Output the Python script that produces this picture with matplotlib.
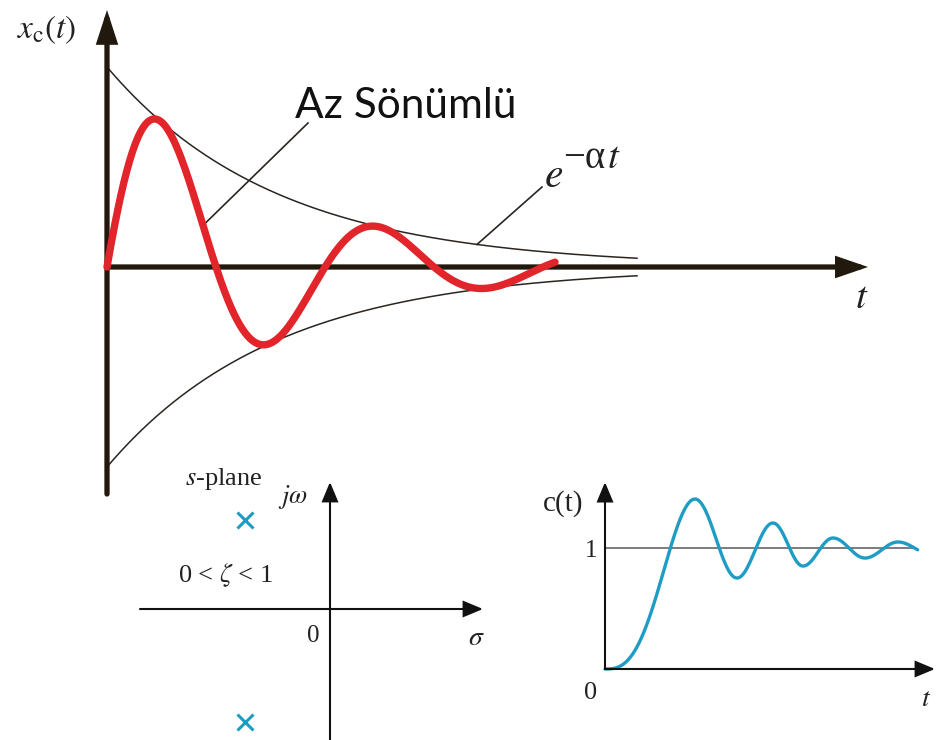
import numpy as np
import matplotlib
matplotlib.use('Agg')
import matplotlib.pyplot as plt

plt.rcParams['font.family'] = ['Liberation Serif', 'DejaVu Serif']
plt.rcParams['mathtext.fontset'] = 'stix'

# underdamped response x_c(t) = A e^{-alpha t} sin(w t)
amp = 2.0          # envelope height at t = 0
alpha = 0.59       # decay rate
period = 2.18      # oscillation period
t_end = 4.48       # red curve stops here
env_end = 5.3      # envelope drawn up to here
t_axis = 7.61      # length of the time axis

# s-plane poles (sigma, j omega)
pole_sigma = [-0.85, -0.85]
pole_omega = [0.89, -1.13]

# step response c(t): successive peaks / troughs (t, c)
ext_t = [0.0, 0.90, 1.32, 1.68, 1.98, 2.28, 2.60, 2.93, 3.26]
ext_c = [0.0, 1.405, 0.752, 1.207, 0.851, 1.083, 0.917, 1.05, 0.95]
c_end = 3.13
c_ref = 1.0

AX_COL = '#22190e'
RED = '#e2252b'
BLUE = '#1e9dc4'


def envelope(t):
    return amp * np.exp(-alpha * t)


def xc(t):
    return envelope(t) * np.sin(2 * np.pi * t / period)


def arrow(ax, start, tip, lw, hl, hw, color):
    ax.annotate('', xy=tip, xytext=start,
                arrowprops=dict(arrowstyle=f'-|>,head_length={hl},head_width={hw}',
                                mutation_scale=1, lw=lw, color=color,
                                shrinkA=0, shrinkB=0, joinstyle='miter'))


fig = plt.figure(figsize=(9.36, 7.4), dpi=100)

# ---- top: decaying oscillation with its envelope ----
ax = fig.add_axes([0, 0, 1, 1])
ax.set_xlim(-1.07, 8.29)
ax.set_ylim(-4.73, 2.67)
ax.axis('off')

te = np.linspace(0, env_end, 400)
ax.plot(te, envelope(te), color='#2a2520', lw=1.1)
ax.plot(te, -envelope(te), color='#2a2520', lw=1.1)

arrow(ax, (0, -2.27), (0, 2.57), 3.8, 17, 5.5, AX_COL)
arrow(ax, (0, 0), (t_axis, 0), 3.8, 16, 5.5, AX_COL)

tr = np.linspace(0, t_end, 500)
ax.plot(tr, xc(tr), color=RED, lw=5.3, solid_capstyle='round', zorder=5)

# leader lines
t_az = 0.96
ax.plot([2.01, t_az], [1.44, xc(t_az)], color='#2a2520', lw=1.2)
t_e = 3.70
ax.plot([4.35, t_e], [0.80, envelope(t_e)], color='#2a2520', lw=1.2)

ax.text(-0.90, 2.29, r'$x_{\mathrm{c}}(t)$', fontsize=24, color='#222222')
ax.text(1.88, 1.49, 'Az Sönümlü', fontsize=30.5, family='Lato', color='#111111')
ax.text(4.37, 0.80, r'$e$', fontsize=30, color='#222222')
ax.text(4.56, 0.99, '−α', fontsize=28, color='#222222')
ax.text(5.00, 0.99, r'$t$', fontsize=28, color='#222222')
ax.text(7.55, -0.41, r'$t$', fontsize=28, color='#222222', ha='center')

# ---- bottom left: s-plane ----
ax_s = fig.add_axes([120 / 936, 0, 390 / 936, 280 / 740])
ax_s.set_xlim(-2.10, 1.80)
ax_s.set_ylim(-1.31, 1.49)
ax_s.axis('off')
ax_s.patch.set_alpha(0)

arrow(ax_s, (-1.90, 0), (1.53, 0), 1.5, 12, 5, '#111111')
arrow(ax_s, (0, -1.31), (0, 1.27), 1.5, 12, 5, '#111111')
ax_s.plot(pole_sigma, pole_omega, linestyle='none', marker='x',
          ms=12, mew=2.2, color=BLUE)

ax_s.text(-1.45, 1.24, r'$s$-plane', fontsize=19, color='#222222')
ax_s.text(-0.52, 1.06, r'$j\omega$', fontsize=19, color='#222222')
ax_s.text(-1.52, 0.27, r'0 < $\zeta$ < 1', fontsize=19, color='#222222')
ax_s.text(-0.17, -0.33, '0', fontsize=18, color='#222222', ha='center')
ax_s.text(1.38, -0.36, r'$\sigma$', fontsize=20, color='#222222')

# ---- bottom right: step response ----
ax_c = fig.add_axes([525 / 936, 0, 411 / 936, 270 / 740])
ax_c.set_xlim(-0.80, 3.31)
ax_c.set_ylim(-0.587, 1.645)
ax_c.axis('off')
ax_c.patch.set_alpha(0)

arrow(ax_c, (0, 0), (0, 1.545), 1.5, 12, 5, '#111111')
arrow(ax_c, (0, 0), (3.30, 0), 1.5, 12, 5, '#111111')
ax_c.plot([0, 3.10], [c_ref, c_ref], color='#666666', lw=1.2)

# smooth half-cosine pieces between successive extrema
xs, ys = [], []
for i in range(len(ext_t) - 1):
    t0, t1 = ext_t[i], ext_t[i + 1]
    x = np.linspace(t0, t1, 80)
    u = (x - t0) / (t1 - t0)
    if i == 0:
        u = u ** 1.4
    y = ext_c[i] + (ext_c[i + 1] - ext_c[i]) * (1 - np.cos(np.pi * u)) / 2
    keep = x <= c_end
    xs.append(x[keep])
    ys.append(y[keep])
xs = np.concatenate(xs)
ys = np.concatenate(ys)
ax_c.plot(xs, ys, color=BLUE, lw=2.4, solid_capstyle='round')

ax_c.text(-0.42, 1.31, 'c(t)', fontsize=21, color='#222222', ha='center')
ax_c.text(-0.14, 0.925, '1', fontsize=18, color='#222222', ha='center')
ax_c.text(-0.14, -0.25, '0', fontsize=19, color='#222222', ha='center')
ax_c.text(3.21, -0.31, r'$t$', fontsize=20, color='#222222', ha='center')

fig.savefig('out.png', dpi=100)
